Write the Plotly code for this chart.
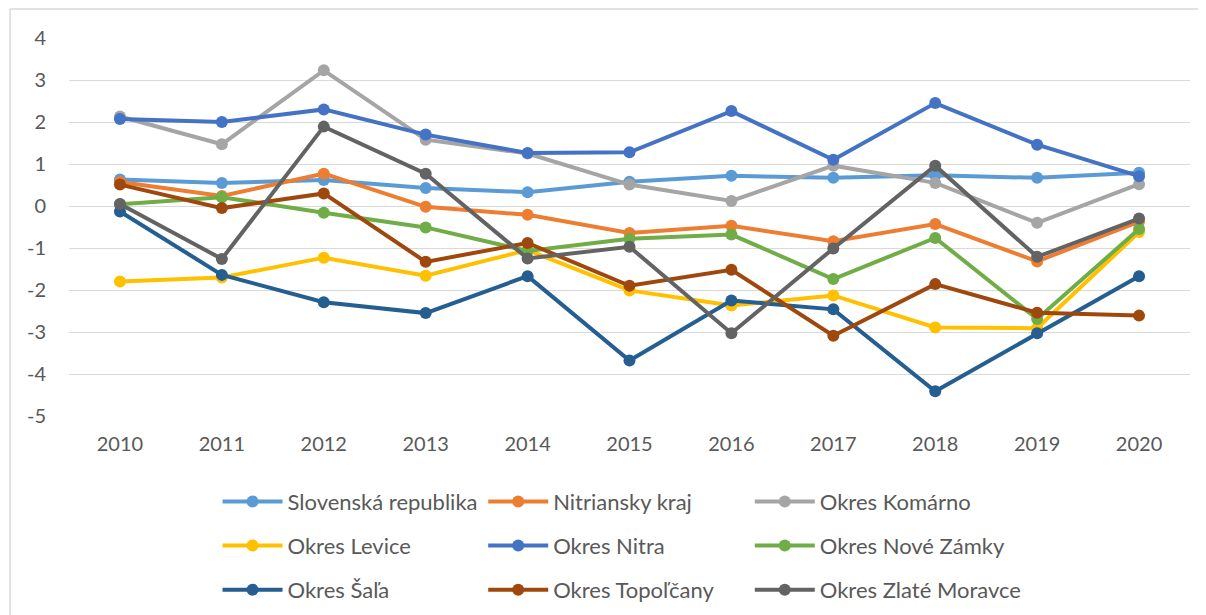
import plotly.graph_objects as go

years = [2010, 2011, 2012, 2013, 2014, 2015, 2016, 2017, 2018, 2019, 2020]
y_ticks = [-5, -4, -3, -2, -1, 0, 1, 2, 3, 4]
y_tick_labels = ["-5", "-4", "-3", "-2", "-1", "0", "1", "2", "3", "4"]

slovensko = [0.63, 0.55, 0.62, 0.43, 0.33, 0.58, 0.72, 0.67, 0.73, 0.67, 0.79]
nitriansky_kraj = [0.57, 0.24, 0.77, -0.02, -0.21, -0.64, -0.47, -0.84, -0.43, -1.32, -0.37]
komarno = [2.13, 1.47, 3.23, 1.58, 1.25, 0.51, 0.12, 0.96, 0.55, -0.40, 0.52]
levice = [-1.80, -1.70, -1.23, -1.66, -1.05, -2.01, -2.37, -2.13, -2.89, -2.91, -0.62]
nitra = [2.07, 2.00, 2.30, 1.70, 1.26, 1.28, 2.26, 1.10, 2.45, 1.46, 0.71]
nove_zamky = [0.04, 0.21, -0.16, -0.51, -1.07, -0.78, -0.68, -1.74, -0.76, -2.69, -0.55]
sala = [-0.13, -1.64, -2.29, -2.55, -1.67, -3.68, -2.25, -2.46, -4.41, -3.03, -1.67]
topolcany = [0.51, -0.05, 0.30, -1.33, -0.88, -1.90, -1.52, -3.09, -1.86, -2.54, -2.61]
zlate_moravce = [0.05, -1.26, 1.89, 0.77, -1.25, -0.97, -3.03, -1.01, 0.96, -1.21, -0.30]

# name, values, colour, legend column
series = [
    ("Slovenská republika", slovensko, "#5B9BD5", "legend"),
    ("Nitriansky kraj", nitriansky_kraj, "#ED7D31", "legend2"),
    ("Okres Komárno", komarno, "#A5A5A5", "legend3"),
    ("Okres Levice", levice, "#FFC000", "legend"),
    ("Okres Nitra", nitra, "#4472C4", "legend2"),
    ("Okres Nové Zámky", nove_zamky, "#70AD47", "legend3"),
    ("Okres Šaľa", sala, "#255E91", "legend"),
    ("Okres Topoľčany", topolcany, "#9E480E", "legend2"),
    ("Okres Zlaté Moravce", zlate_moravce, "#636363", "legend3"),
]

fig = go.Figure()
for name, vals, col, leg in series:
    fig.add_trace(go.Scatter(
        x=[str(y) for y in years], y=vals, name=name, mode="lines+markers",
        line=dict(color=col, width=4), marker=dict(color=col, size=12),
        legend=leg, legendgroup=name,
    ))

font = dict(family="Lato, Open Sans, sans-serif", size=20, color="#595959")
leg_font = dict(family="Lato, Open Sans, sans-serif", size=22, color="#595959")


def legend_col(xpos):
    return dict(
        orientation="v", x=xpos, xanchor="left", y=-0.171, yanchor="top",
        itemwidth=60, tracegroupgap=12.5,
        font=leg_font, bgcolor="rgba(0,0,0,0)",
    )


# page body has an 8px margin, so margins are shifted by that
fig.update_layout(
    width=1206, height=615,
    paper_bgcolor="white", plot_bgcolor="white",
    margin=dict(l=61, r=24, t=30, b=207, autoexpand=False),
    font=font,
    showlegend=True,
    legend=legend_col(0.1325),
    legend2=legend_col(0.3695),
    legend3=legend_col(0.6073),
    shapes=[
        dict(type="line", xref="paper", yref="paper", x0=-0.0526, x1=1.03, y0=1.0767, y1=1.0767,
             line=dict(color="#D9D9D9", width=1.5)),
        dict(type="line", xref="paper", yref="paper", x0=-0.0526, x1=-0.0526, y0=1.0767, y1=-0.6,
             line=dict(color="#D9D9D9", width=1.5)),
    ],
)
fig.update_xaxes(type="category", range=[-0.5, 10.5], showgrid=False, zeroline=False,
                 showline=False, ticks="", ticklabelstandoff=14, tickfont=font, automargin=False)
fig.update_yaxes(range=[-5, 4], tickvals=y_ticks, ticktext=y_tick_labels,
                 showgrid=True, gridcolor="#D9D9D9", gridwidth=1.3,
                 zeroline=False, showline=False, ticks="", ticklabelstandoff=22,
                 tickfont=font, automargin=False)

fig.write_html("out.html")
